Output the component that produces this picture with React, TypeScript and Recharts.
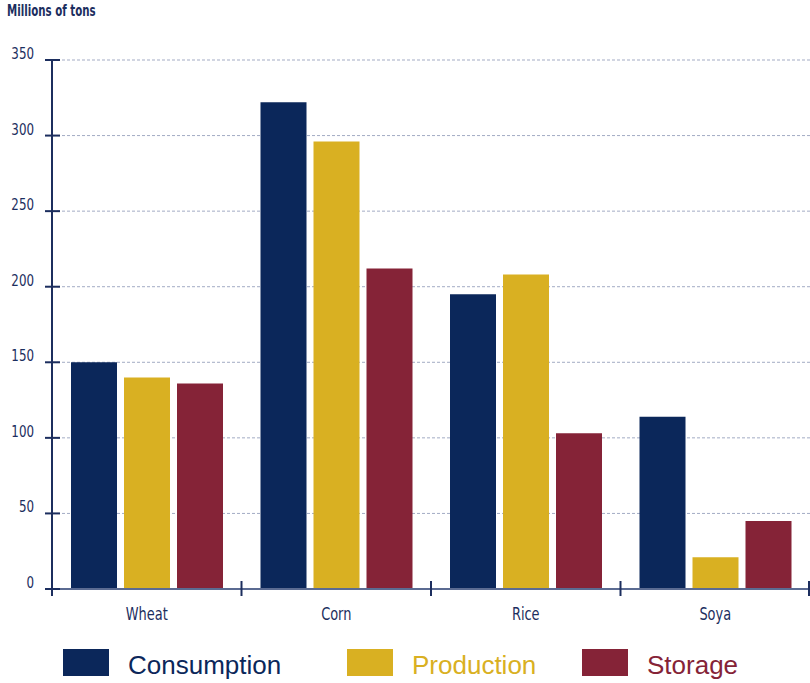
// Grain chart - consumption / production / storage by crop

import { BarChart, Bar, XAxis, YAxis, CartesianGrid } from "recharts";

const categories = ["Wheat", "Corn", "Rice", "Soya"];
const consumption = [150, 322, 195, 114];
const production = [140, 296, 208, 21];
const storage = [136, 212, 103, 45];
const yTicks = [0, 50, 100, 150, 200, 250, 300, 350];

const SERIES = [
  { key: "consumption", label: "Consumption", color: "#0b275a" },
  { key: "production", label: "Production", color: "#d9b022" },
  { key: "storage", label: "Storage", color: "#852337" },
];

const NAVY = "#1c2e5e";
const AXIS_GRAY = "#5b6b92";
const NARROW = "'DejaVu Sans Condensed', 'DejaVu Sans', sans-serif";
const BAND = 758 / categories.length;

const data = categories.map((name, i) => ({
  name,
  consumption: consumption[i],
  production: production[i],
  storage: storage[i],
}));

function YTick(props: any) {
  const { x, y, payload } = props;
  return (
    <g>
      <line x1={x - 7} x2={x + 8} y1={y} y2={y} stroke={NAVY} strokeWidth={2} />
      {payload.value === 0 && (
        <line x1={x} x2={x} y1={y} y2={y + 7} stroke={NAVY} strokeWidth={2} />
      )}
      <text
        transform={`translate(${x - 18},${y - 1}) scale(0.88,1)`}
        textAnchor="end"
        fill={NAVY}
        fontSize={15}
        fontFamily={NARROW}
        style={{ fontStretch: "condensed" }}
      >
        {payload.value}
      </text>
    </g>
  );
}

function XTick(props: any) {
  const { x, y, payload, index } = props;
  const left = x - BAND / 2;
  return (
    <g>
      {index > 0 && (
        <line x1={left} x2={left} y1={y - 8} y2={y + 7} stroke={NAVY} strokeWidth={2} />
      )}
      {index === categories.length - 1 && (
        <line x1={x + BAND / 2 - 1} x2={x + BAND / 2 - 1} y1={y - 8} y2={y + 7} stroke={NAVY} strokeWidth={2} />
      )}
      <text
        transform={`translate(${x},${y + 31}) scale(0.8,1)`}
        textAnchor="middle"
        fill={NAVY}
        fontSize={18}
        fontFamily={NARROW}
        style={{ fontStretch: "condensed" }}
      >
        {payload.value}
      </text>
    </g>
  );
}

export default function App() {
  return (
    <div style={{ position: "absolute", left: 0, top: 0, width: 810, height: 683, background: "#fff" }}>
      <div
        style={{
          position: "absolute",
          left: 7,
          top: 2,
          fontFamily: NARROW,
          fontStretch: "condensed",
          fontWeight: "bold",
          fontSize: 15,
          color: NAVY,
          transform: "scaleX(0.76)",
          transformOrigin: "0 0",
          whiteSpace: "nowrap",
        }}
      >
        Millions of tons
      </div>
      <BarChart
        width={810}
        height={683}
        data={data}
        margin={{ top: 60, right: 0, left: 0, bottom: 64 }}
        barCategoryGap={19}
        barGap={7}
      >
        <CartesianGrid
          horizontal
          vertical={false}
          stroke="#a3abc4"
          strokeDasharray="3 2"
        />
        <XAxis
          dataKey="name"
          height={30}
          axisLine={{ stroke: AXIS_GRAY, strokeWidth: 2 }}
          tickLine={false}
          tickSize={0}
          tickMargin={0}
          tick={<XTick />}
          interval={0}
        />
        <YAxis
          width={52}
          domain={[0, 350]}
          ticks={yTicks}
          axisLine={{ stroke: NAVY, strokeWidth: 2 }}
          tickLine={false}
          tickSize={0}
          tickMargin={0}
          tick={<YTick />}
          interval={0}
        />
        {SERIES.map((s) => (
          <Bar key={s.key} dataKey={s.key} fill={s.color} barSize={46} isAnimationActive={false} />
        ))}
      </BarChart>
      {SERIES.map((s, i) => (
        <div
          key={s.key}
          style={{
            position: "absolute",
            left: [63, 347, 582][i],
            top: 649,
            display: "flex",
            alignItems: "center",
            height: 27,
          }}
        >
          <div style={{ width: 46, height: 27, background: s.color }} />
          <span
            style={{
              marginLeft: 19,
              fontFamily: "'Liberation Sans', Arial, sans-serif",
              fontSize: 26,
              color: s.color,
              lineHeight: "27px",
              position: "relative",
              top: 3,
            }}
          >
            {s.label}
          </span>
        </div>
      ))}
    </div>
  );
}
